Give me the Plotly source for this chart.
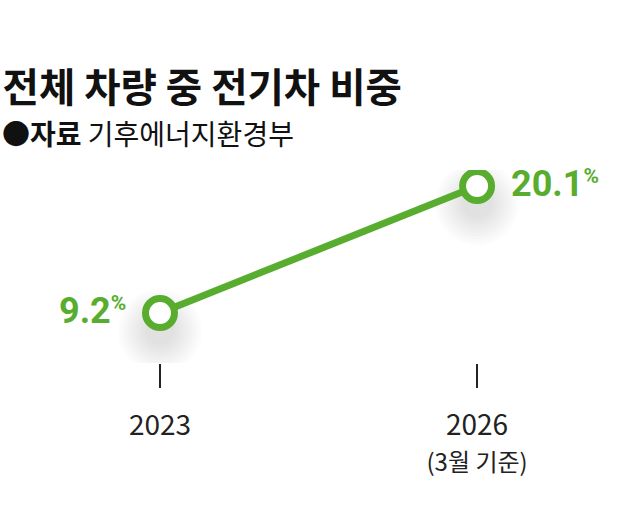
import plotly.graph_objects as go

years = [2023, 2026]
shares = [9.2, 20.1]
year_labels = ['2023', "2026<br><span style='font-size:24px'>(3월 기준)</span>"]
value_labels = ['9.2', '20.1']

green = '#58ad2f'
font = 'Noto Sans CJK KR'

fig = go.Figure()

# soft drop shadow under the markers
shadow_drop = 1.5
for size in range(84, 28, -6):
    fig.add_trace(go.Scatter(
        x=years, y=[v - shadow_drop for v in shares], mode='markers',
        marker=dict(size=size, color='rgba(0,0,0,0.011)'),
        hoverinfo='skip', showlegend=False
    ))

fig.add_trace(go.Scatter(
    x=years, y=shares, mode='lines+markers',
    line=dict(color=green, width=7),
    marker=dict(size=29, color='white', line=dict(color=green, width=7)),
    showlegend=False
))

# value labels
for x, y, txt, side in zip(years, shares, value_labels, ['left', 'right']):
    fig.add_annotation(
        x=x, y=y,
        text=f"{txt}<span style='font-size:30px'><sup>%</sup></span>",
        showarrow=False, xanchor='right' if side == 'left' else 'left',
        xshift=-32 if side == 'left' else 32, yshift=2,
        font=dict(family='Roboto', size=36, color=green, weight='bold')
    )

fig.add_annotation(
    x=-60 / 540, y=1.0, xref='paper', yref='paper', xanchor='left', yanchor='bottom',
    yshift=15,
    text="●<b>자료</b> 기후에너지환경부", showarrow=False,
    font=dict(family=font, size=28, color='#111')
)

fig.update_layout(
    width=640, height=524,
    margin=dict(l=60, r=40, t=170, b=161),
    paper_bgcolor='white', plot_bgcolor='white',
    font=dict(family=font, color='#222'),
    title=dict(
        text='<b>전체 차량 중 전기차 비중</b>',
        x=0.004, xanchor='left', y=0.832, yanchor='middle',
        font=dict(family=font, size=39.5, color='#111')
    ),
    xaxis=dict(
        range=[2022.054, 2027.163], tickvals=years, ticktext=year_labels,
        showgrid=False, zeroline=False, showline=False,
        ticks='outside', ticklen=24, tickwidth=2, tickcolor='#222',
        ticklabelstandoff=13, tickfont=dict(size=28, color='#222')
    ),
    yaxis=dict(range=[4.91, 21.47], visible=False),
)

fig.write_html('out.html', config={'displayModeBar': False},
               post_script="document.body.style.margin='0';")
